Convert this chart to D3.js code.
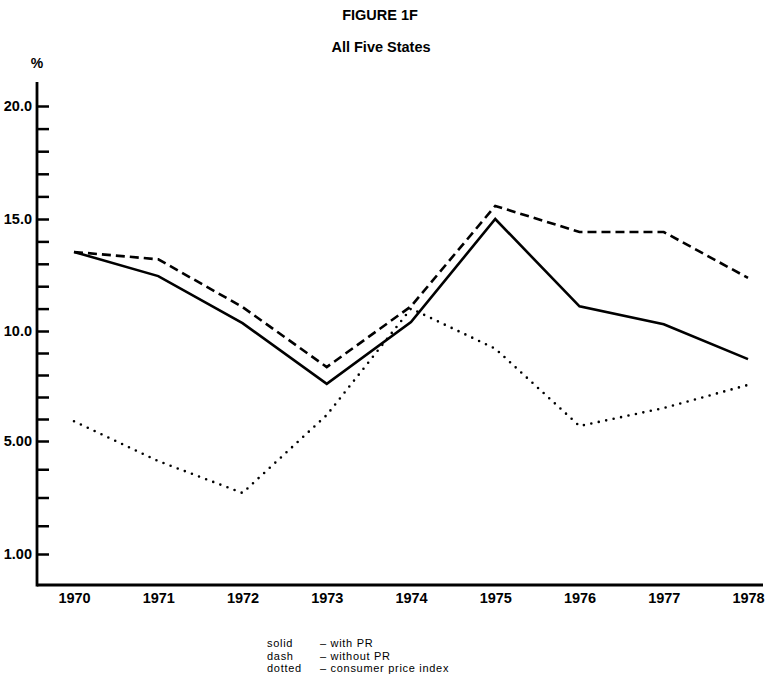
<!DOCTYPE html>
<html>
<head>
<meta charset="utf-8">
<script src="https://cdn.jsdelivr.net/npm/d3@7"></script>
<style>
  html, body { margin: 0; padding: 0; background: #fff; }
  svg { display: block; }
  text { font-family: "Liberation Sans", Arial, Helvetica, sans-serif; fill: #000; }
</style>
</head>
<body>
<svg id="chart" width="773" height="682"></svg>
<script>
// ---- data ----
const years = [1970, 1971, 1972, 1973, 1974, 1975, 1976, 1977, 1978];
const withPR = [13.53, 12.45, 10.35, 7.6, 10.4, 15.0, 11.1, 10.3, 8.72];
const withoutPR = [13.53, 13.2, 11.07, 8.36, 11.1, 15.58, 14.42, 14.42, 12.37];
const cpi = [5.9, 4.29, 3.16, 6.18, 11.0, 9.2, 5.68, 6.5, 7.55];
const yTickValues = [1,2,3,4,5,6,7,8,9,10,11,12,13,14,15,16,17,18,19,20];
const yTickLabels = {20: "20.0", 15: "15.0", 10: "10.0", 5: "5.00", 1: "1.00"};
const legendKeys = ["solid", "dash", "dotted"];
const legendTexts = ["with PR", "without PR", "consumer price index"];

const svg = d3.select("#chart");

// scales (hand-drawn original axis: piecewise linear spacing)
const x = d3.scaleLinear().domain([1970, 1978]).range([74, 748]);
const y = d3.scaleLinear().domain([1, 5, 10, 15, 20]).range([554, 441, 331, 219, 106]);

const axisX0 = 37, axisBottom = 585, axisTop = 82, axisRight = 763;
const boldFont = "'Liberation Sans', Arial, Helvetica, sans-serif";

// titles
svg.append("text").attr("x", 380).attr("y", 20).attr("text-anchor", "middle")
  .style("font-size", "14.5px").style("font-weight", "bold").text("FIGURE 1F");
svg.append("text").attr("x", 381).attr("y", 52).attr("text-anchor", "middle")
  .style("font-size", "14.5px").style("font-weight", "bold").text("All Five States");
svg.append("text").attr("x", 37).attr("y", 68).attr("text-anchor", "middle")
  .style("font-size", "14px").style("font-weight", "bold").text("%");

// y axis
const yAxis = d3.axisLeft(y)
  .tickValues(yTickValues)
  .tickSizeInner(-12)
  .tickSizeOuter(0)
  .tickFormat(d => yTickLabels[d] || "");
const gy = svg.append("g").attr("transform", `translate(${axisX0},0)`).call(yAxis);
gy.select(".domain").remove();
gy.selectAll(".tick line").attr("stroke", "#000").attr("stroke-width", 2.5);
gy.selectAll(".tick text")
  .attr("x", -5)
  .style("font-size", "14.5px").style("font-weight", "bold")
  .style("font-family", boldFont);
svg.append("line").attr("x1", axisX0).attr("x2", axisX0)
  .attr("y1", axisTop).attr("y2", axisBottom + 1.5)
  .attr("stroke", "#000").attr("stroke-width", 2.8);

// x axis
const xAxis = d3.axisBottom(x).tickValues(years).tickSize(0).tickPadding(8).tickFormat(d3.format("d"));
const gx = svg.append("g").attr("transform", `translate(0,${axisBottom})`).call(xAxis);
gx.select(".domain").remove();
gx.selectAll(".tick text")
  .style("font-size", "14.5px").style("font-weight", "bold")
  .style("font-family", boldFont);
svg.append("line").attr("x1", axisX0).attr("x2", axisRight)
  .attr("y1", axisBottom).attr("y2", axisBottom)
  .attr("stroke", "#000").attr("stroke-width", 2.8);

// lines
const line = d3.line().x((d, i) => x(years[i])).y(d => y(d));

svg.append("path").datum(cpi).attr("d", line)
  .attr("fill", "none").attr("stroke", "#000").attr("stroke-width", 2.6)
  .attr("stroke-linecap", "round").attr("stroke-dasharray", "0,7.6");

svg.append("path").datum(withoutPR).attr("d", line)
  .attr("fill", "none").attr("stroke", "#000").attr("stroke-width", 2.6)
  .attr("stroke-dasharray", "9,5");

svg.append("path").datum(withPR).attr("d", line)
  .attr("fill", "none").attr("stroke", "#000").attr("stroke-width", 2.6)
  .attr("stroke-linejoin", "miter");

// legend
const lg = svg.append("g");
legendKeys.forEach((k, i) => {
  const yy = 647 + i * 12.5;
  lg.append("text").attr("x", 267).attr("y", yy)
    .style("font-size", "11px").style("letter-spacing", "0.7px").text(k);
  lg.append("text").attr("x", 320).attr("y", yy)
    .style("font-size", "11px").style("letter-spacing", "0.7px").text("\u2013 " + legendTexts[i]);
});
</script>
</body>
</html>
